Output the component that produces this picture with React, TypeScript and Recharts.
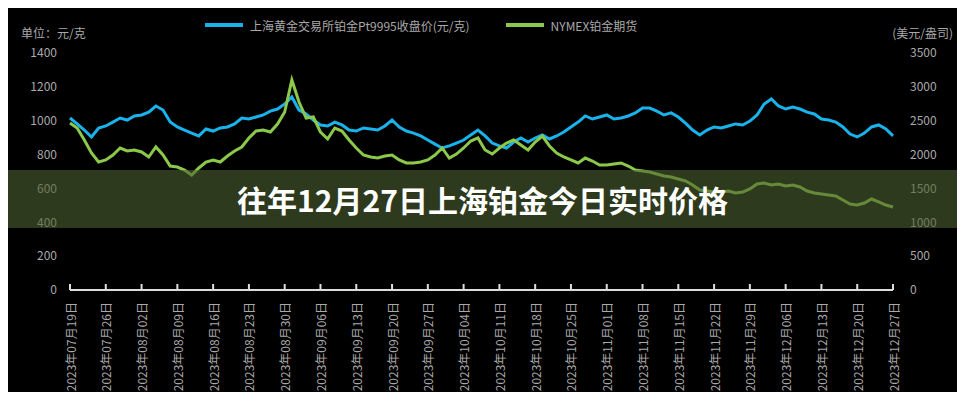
import { Legend, Line, LineChart, XAxis, YAxis } from "recharts";

const tickLabels = [
    "2023年07月19日", "2023年07月26日", "2023年08月02日", "2023年08月09日",
    "2023年08月16日", "2023年08月23日", "2023年08月30日", "2023年09月06日",
    "2023年09月13日", "2023年09月20日", "2023年09月27日", "2023年10月04日",
    "2023年10月11日", "2023年10月18日", "2023年10月25日", "2023年11月01日",
    "2023年11月08日", "2023年11月15日", "2023年11月22日", "2023年11月29日",
    "2023年12月06日", "2023年12月13日", "2023年12月20日", "2023年12月27日",
];

// 上海铂金 (左轴)
const shanghaiPt = [
    1016, 981, 945, 904, 957, 969, 992, 1016, 1004, 1028,
    1034, 1051, 1087, 1063, 992, 963, 945, 927, 910, 951,
    939, 957, 963, 981, 1016, 1010, 1022, 1034, 1057, 1069,
    1099, 1140, 1063, 1040, 1004, 975, 969, 992, 975, 945,
    939, 957, 951, 945, 969, 1004, 963, 939, 927, 910,
    886, 862, 839, 851, 868, 886, 916, 945, 910, 868,
    851, 839, 874, 898, 874, 898, 916, 892, 910, 933,
    963, 992, 1028, 1010, 1022, 1034, 1010, 1016, 1028, 1046,
    1075, 1075, 1057, 1034, 1046, 1022, 986, 945, 916, 945,
    963, 957, 969, 981, 975, 998, 1034, 1099, 1128, 1087,
    1069, 1081, 1069, 1051, 1040, 1010, 1004, 992, 963, 921,
    904, 927, 963, 975, 951, 910,
];

// 纽约铂金 (右轴)
const nymexPt = [
    2466, 2392, 2215, 2023, 1890, 1920, 1994, 2097, 2053, 2068,
    2038, 1964, 2112, 1994, 1831, 1816, 1772, 1698, 1802, 1890,
    1920, 1890, 1979, 2053, 2112, 2245, 2348, 2363, 2333, 2451,
    2629, 3101, 2776, 2540, 2555, 2333, 2230, 2392, 2348, 2215,
    2097, 1994, 1964, 1949, 1979, 1994, 1920, 1876, 1876, 1890,
    1920, 1994, 2097, 1949, 2008, 2097, 2200, 2245, 2068, 2008,
    2097, 2171, 2215, 2141, 2068, 2186, 2274, 2127, 2023, 1964,
    1920, 1876, 1949, 1905, 1846, 1846, 1861, 1876, 1831, 1772,
    1757, 1743, 1713, 1684, 1669, 1639, 1610, 1551, 1477, 1462,
    1447, 1447, 1462, 1432, 1447, 1492, 1565, 1580, 1551, 1565,
    1536, 1551, 1521, 1462, 1432, 1418, 1403, 1388, 1329, 1270,
    1255, 1285, 1344, 1300, 1255, 1226,
];

const leftTicks = [0, 200, 400, 600, 800, 1000, 1200, 1400];
const rightTicks = [0, 500, 1000, 1500, 2000, 2500, 3000, 3500];

const seriesNames = ["上海黄金交易所铂金Pt9995收盘价(元/克)", "NYMEX铂金期货"];
const title = "往年12月27日上海铂金今日实时价格";

const STEP = 5;
const data = shanghaiPt.map((v, i) => ({ i, sh: v, ny: nymexPt[i] }));
const xTicks = tickLabels.map((_, k) => k * STEP);

const BLUE = "#19b2ea";
const GREEN = "#8cc94a";
const GREY = "#a9a9a9";

function DateTick(props: any) {
    const { x, y, payload } = props;
    const label = tickLabels[Math.round(payload.value / STEP)];
    return (
        <g>
            <line x1={x} x2={x} y1={y - 12} y2={y - 18} stroke="#ddd" strokeWidth={2} />
            <text
                x={x}
                y={y}
                transform={`rotate(-90 ${x} ${y})`}
                textAnchor="end"
                dominantBaseline="central"
                fill={GREY}
                fontSize={12}
            >
                {label}
            </text>
        </g>
    );
}

function LegendContent() {
    const colors = [BLUE, GREEN];
    return (
        <div style={{ display: "flex", alignItems: "center", height: 20 }}>
            {seriesNames.map((name, k) => (
                <div key={name} style={{ display: "flex", alignItems: "center", marginRight: 36 }}>
                    <span style={{ display: "inline-block", width: 38, height: 4, background: colors[k], marginRight: 7 }} />
                    <span style={{ color: GREY, fontSize: 12, whiteSpace: "nowrap" }}>{name}</span>
                </div>
            ))}
        </div>
    );
}

export default function App() {
    return (
        <div style={{
            position: "relative",
            width: 965,
            height: 400,
            margin: -8,
            background: "#000",
            overflow: "hidden",
            fontFamily: "'Noto Sans CJK SC', 'Noto Sans', sans-serif",
        }}>
            <LineChart
                width={965}
                height={400}
                data={data}
                margin={{ top: 33, right: 0, left: 0, bottom: 0 }}
            >
                <Legend
                    verticalAlign="top"
                    align="left"
                    height={20}
                    wrapperStyle={{ top: 15, left: 205, width: "auto" }}
                    content={<LegendContent />}
                />
                <XAxis
                    dataKey="i"
                    type="number"
                    domain={[0, 115]}
                    ticks={xTicks}
                    interval={0}
                    height={110}
                    tickSize={0}
                    tickMargin={12}
                    tickLine={false}
                    axisLine={{ stroke: "#ddd", strokeWidth: 2 }}
                    tick={<DateTick />}
                />
                <YAxis
                    yAxisId="left"
                    domain={[0, 1400]}
                    ticks={leftTicks}
                    width={70}
                    axisLine={false}
                    tickLine={false}
                    tickMargin={7}
                    tick={{ fill: GREY, fontSize: 12 }}
                />
                <YAxis
                    yAxisId="right"
                    orientation="right"
                    domain={[0, 3500]}
                    ticks={rightTicks}
                    width={72}
                    axisLine={false}
                    tickLine={false}
                    tickMargin={11}
                    tick={{ fill: GREY, fontSize: 12, textAnchor: "start" }}
                />
                <Line
                    yAxisId="left"
                    type="linear"
                    dataKey="sh"
                    name={seriesNames[0]}
                    stroke={BLUE}
                    strokeWidth={3}
                    dot={false}
                    isAnimationActive={false}
                />
                <Line
                    yAxisId="right"
                    type="linear"
                    dataKey="ny"
                    name={seriesNames[1]}
                    stroke={GREEN}
                    strokeWidth={3}
                    dot={false}
                    isAnimationActive={false}
                />
            </LineChart>
            <div style={{ position: "absolute", left: 21, top: 24, fontSize: 12, color: GREY }}>单位：元/克</div>
            <div style={{ position: "absolute", right: 12, top: 24, fontSize: 12, color: GREY }}>(美元/盎司)</div>
            <div style={{
                position: "absolute",
                left: 0,
                top: 170,
                width: 965,
                height: 58,
                background: "rgba(77,97,48,0.6)",
                display: "flex",
                alignItems: "center",
                justifyContent: "center",
                color: "#fff",
                fontSize: 30,
                fontWeight: 700,
            }}>
                {title}
            </div>
        </div>
    );
}
